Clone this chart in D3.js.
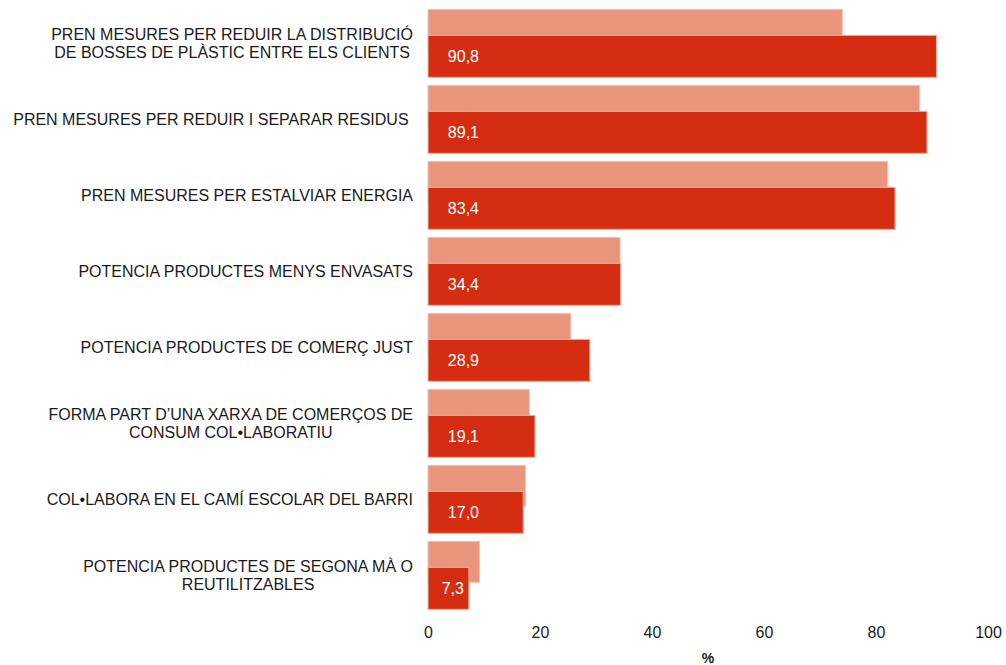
<!DOCTYPE html>
<html>
<head>
<meta charset="utf-8">
<script src="https://cdn.jsdelivr.net/npm/d3@7/dist/d3.min.js"></script>
<style>
  html, body { margin: 0; padding: 0; background: #fff; }
  svg { display: block; font-family: "Liberation Sans", Arial, sans-serif; }
</style>
</head>
<body>
<svg id="chart" width="1006" height="665"></svg>
<script>
const categories = [
  ["PREN MESURES PER REDUIR LA DISTRIBUCIÓ", "DE BOSSES DE PLÀSTIC ENTRE ELS CLIENTS"],
  ["PREN MESURES PER REDUIR I SEPARAR RESIDUS "],
  ["PREN MESURES PER ESTALVIAR ENERGIA"],
  ["POTENCIA PRODUCTES MENYS ENVASATS"],
  ["POTENCIA PRODUCTES DE COMERÇ JUST"],
  ["FORMA PART D’UNA XARXA DE COMERÇOS DE", "CONSUM COL•LABORATIU"],
  ["COL•LABORA EN EL CAMÍ ESCOLAR DEL BARRI"],
  ["POTENCIA PRODUCTES DE SEGONA MÀ O", "REUTILITZABLES"]
];
const previousValues = [74.0, 87.8, 82.1, 34.3, 25.5, 18.1, 17.4, 9.2];
const currentValues  = [90.8, 89.1, 83.4, 34.4, 28.9, 19.1, 17.0, 7.3];
const xTicks = [0, 20, 40, 60, 80, 100];
const xTitle = "%";

const svg = d3.select("#chart");
const keys = categories.map((c, i) => i);

const x = d3.scaleLinear().domain([0, 100]).range([428, 988]);
const y = d3.scaleBand().domain(keys).range([9.3, 617.3]).padding(0);
const bw = y.bandwidth();

const lightH = bw * 0.54;
const darkOff = bw * 0.342;
const darkH = bw * 0.553;
const groupH = darkOff + darkH;

// light (previous) bars
svg.append("g").selectAll("rect").data(previousValues).join("rect")
  .attr("x", x(0))
  .attr("y", (d, i) => y(i))
  .attr("width", d => x(d) - x(0))
  .attr("height", lightH)
  .attr("fill", "#E8957C")
  .attr("stroke", "#F4C2B3")
  .attr("stroke-width", 1);

// dark (current) bars
svg.append("g").selectAll("rect").data(currentValues).join("rect")
  .attr("x", x(0))
  .attr("y", (d, i) => y(i) + darkOff)
  .attr("width", d => x(d) - x(0))
  .attr("height", darkH)
  .attr("fill", "#D42D12")
  .attr("stroke", "#F2B5A6")
  .attr("stroke-width", 1);

// value labels
svg.append("g").selectAll("text").data(currentValues).join("text")
  .attr("x", d => Math.min(x(0) + 51, x(d) - 5))
  .attr("y", (d, i) => y(i) + darkOff + darkH / 2)
  .attr("dy", "0.35em")
  .attr("text-anchor", "end")
  .attr("fill", "#fff")
  .style("font-size", "16px")
  .text(d => d.toFixed(1).replace(".", ","));

// category labels (centered block, right edge at 413)
const labelRight = 413;
const lineH = 18;
const lg = svg.append("g");
categories.forEach((lines, i) => {
  const t = lg.append("text")
    .attr("fill", "#1a1a1a")
    .style("font-size", "16px")
    .style("white-space", "pre");
  const cy = y(i) + groupH / 2;
  const spans = lines.map((ln, j) => t.append("tspan")
    .attr("y", cy + (j - (lines.length - 1) / 2) * lineH)
    .attr("dy", "0.35em")
    .text(ln));
  const widths = spans.map(s => s.node().getComputedTextLength());
  const maxW = d3.max(widths);
  const cx = labelRight - maxW / 2;
  spans.forEach(s => s.attr("x", cx).attr("text-anchor", "middle"));
});

// x axis
const axis = svg.append("g")
  .attr("transform", "translate(0,617)")
  .call(d3.axisBottom(x).tickValues(xTicks).tickSize(0).tickPadding(10).tickFormat(d3.format("d")));
axis.select(".domain").remove();
axis.selectAll("text")
  .attr("fill", "#1a1a1a")
  .style("font-size", "16px")
  .style("font-family", "'Liberation Sans', Arial, sans-serif");

svg.append("text")
  .attr("x", (x(0) + x(100)) / 2)
  .attr("y", 663)
  .attr("text-anchor", "middle")
  .attr("fill", "#1a1a1a")
  .style("font-size", "14px")
  .style("font-weight", "bold")
  .text(xTitle);
</script>
</body>
</html>
